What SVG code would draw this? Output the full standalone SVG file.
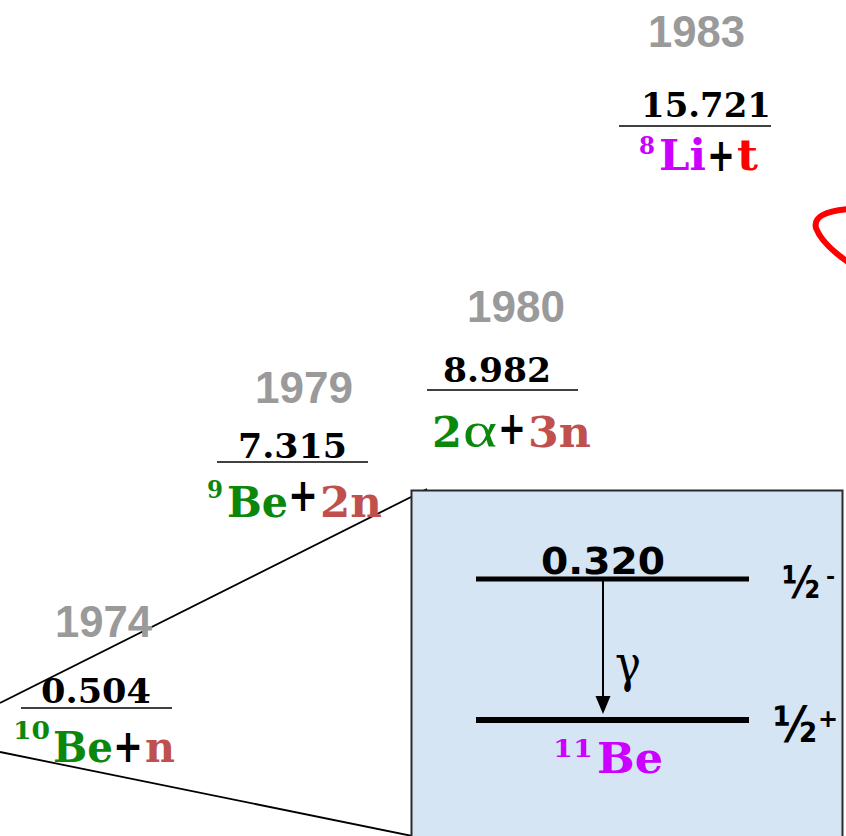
<svg xmlns="http://www.w3.org/2000/svg" width="846" height="836" viewBox="0 0 846 836">
<style>
.yr{font-family:"Liberation Sans",Arial,sans-serif;font-weight:bold;font-size:44px;fill:#9a9a9a}
.num{font-family:"DejaVu Serif",serif;font-weight:bold;font-size:34px;fill:#000}
.lvl{stroke:#000;stroke-width:1.6}
.rx{font-family:"DejaVu Serif",serif;font-weight:bold;font-size:42px}
.sup{font-family:"DejaVu Serif",serif;font-weight:bold;font-size:25px}
.plus{font-family:"DejaVu Sans",sans-serif;font-weight:bold;font-size:46px;fill:#000}
.g{fill:#0b870b}.r{fill:#c0504d}.m{fill:#cc00ff}.red{fill:#ff0000}
.bx{font-family:"DejaVu Sans",sans-serif;font-weight:bold;fill:#000}
</style>
<rect width="846" height="836" fill="#fff"/>
<g id="connectors" fill="none" stroke="#000">
<line x1="0" y1="703" x2="427" y2="489" stroke-width="1.8"/>
<line x1="0" y1="752" x2="412" y2="836" stroke-width="1.8"/>
<path d="M849 209 Q812 212 816 228 Q822 244 848 262" stroke="#ff0000" stroke-width="6"/>
</g>
<g id="box">
<rect x="411.5" y="490.5" width="431" height="360" fill="#d6e5f4" stroke="#2a2a2a" stroke-width="2"/>
<line x1="476" y1="579" x2="749" y2="579" stroke="#000" stroke-width="5"/>
<line x1="476" y1="720" x2="749" y2="720" stroke="#000" stroke-width="6"/>
<line x1="603" y1="581" x2="603" y2="699" stroke="#000" stroke-width="2"/>
<polygon points="595.5,696 610.5,696 603,714" fill="#000"/>
<text class="bx" x="541" y="574" font-size="38" textLength="124" lengthAdjust="spacingAndGlyphs">0.320</text>
<text x="615" y="681" font-family="DejaVu Serif,serif" font-size="50" fill="#000" textLength="26" lengthAdjust="spacingAndGlyphs">γ</text>
<text class="bx" x="782" y="598" font-size="44" textLength="38" lengthAdjust="spacingAndGlyphs">½</text>
<text class="bx" x="826" y="584" font-size="22">-</text>
<text class="bx" x="773" y="742" font-size="50" textLength="44" lengthAdjust="spacingAndGlyphs">½</text>
<text class="bx" x="818" y="727" font-size="24">+</text>
<text class="sup m" x="553" y="757" font-size="28" textLength="40" lengthAdjust="spacingAndGlyphs">11</text>
<text class="rx m" x="597" y="773" font-size="46" textLength="66" lengthAdjust="spacingAndGlyphs">Be</text>
</g>
<g id="n1983">
<text class="yr" x="648" y="47" textLength="97" lengthAdjust="spacingAndGlyphs">1983</text>
<text class="num" x="641" y="117" textLength="130" lengthAdjust="spacingAndGlyphs">15.721</text>
<line class="lvl" x1="619" y1="126" x2="771" y2="126"/>
<text class="sup m" x="639" y="154" textLength="16" lengthAdjust="spacingAndGlyphs">8</text>
<text class="rx m" x="659" y="170" textLength="47" lengthAdjust="spacingAndGlyphs">Li</text>
<text class="plus" x="707" y="171" textLength="28" lengthAdjust="spacingAndGlyphs">+</text>
<text class="rx red" x="737" y="170" textLength="21" lengthAdjust="spacingAndGlyphs">t</text>
</g>
<g id="n1980">
<text class="yr" x="467" y="322" textLength="98" lengthAdjust="spacingAndGlyphs">1980</text>
<text class="num" x="443" y="382" textLength="108" lengthAdjust="spacingAndGlyphs">8.982</text>
<line class="lvl" x1="427" y1="390" x2="578" y2="390"/>
<text class="rx g" x="432" y="447" font-size="52" textLength="30" lengthAdjust="spacingAndGlyphs">2</text>
<text x="463" y="447" font-family="Liberation Serif,serif" font-size="50" class="g" textLength="34" lengthAdjust="spacingAndGlyphs">α</text>
<text class="plus" x="498" y="444" textLength="28" lengthAdjust="spacingAndGlyphs">+</text>
<text class="rx r" x="528" y="447" font-size="50" textLength="63" lengthAdjust="spacingAndGlyphs">3n</text>
</g>
<g id="n1979">
<text class="yr" x="255" y="403" textLength="98" lengthAdjust="spacingAndGlyphs">1979</text>
<text class="num" x="238" y="458" textLength="109" lengthAdjust="spacingAndGlyphs">7.315</text>
<line class="lvl" x1="217" y1="462" x2="368" y2="462"/>
<text class="sup g" x="207" y="498" textLength="16" lengthAdjust="spacingAndGlyphs">9</text>
<text class="rx g" x="227" y="517" font-size="44" textLength="61" lengthAdjust="spacingAndGlyphs">Be</text>
<text class="plus" x="288" y="511" textLength="30" lengthAdjust="spacingAndGlyphs">+</text>
<text class="rx r" x="320" y="517" font-size="44" textLength="62" lengthAdjust="spacingAndGlyphs">2n</text>
</g>
<g id="n1974">
<text class="yr" x="55" y="637" textLength="97" lengthAdjust="spacingAndGlyphs">1974</text>
<text class="num" x="41" y="703" textLength="110" lengthAdjust="spacingAndGlyphs">0.504</text>
<line class="lvl" x1="21" y1="708" x2="172" y2="708"/>
<text class="sup g" x="13" y="739" textLength="37" lengthAdjust="spacingAndGlyphs">10</text>
<text class="rx g" x="53" y="762" font-size="44" textLength="60" lengthAdjust="spacingAndGlyphs">Be</text>
<text class="plus" x="113" y="762" textLength="30" lengthAdjust="spacingAndGlyphs">+</text>
<text class="rx r" x="145" y="762" font-size="44" textLength="30" lengthAdjust="spacingAndGlyphs">n</text>
</g>
</svg>
